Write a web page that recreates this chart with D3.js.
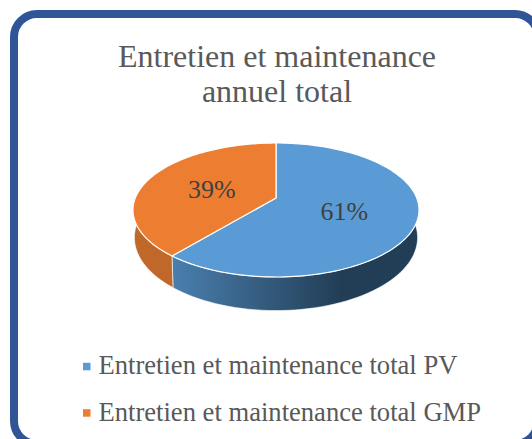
<!DOCTYPE html>
<html lang="en">
<head>
    <meta charset="UTF-8">
    <title>Entretien et maintenance annuel total</title>
    <script src="https://d3js.org/d3.v7.min.js"></script>
    <style>
        html, body { margin: 0; padding: 0; background: #fff; overflow: hidden; }
        svg { display: block; }
        text { font-family: "Liberation Serif", serif; }
    </style>
</head>
<body>
<svg id="canvas" width="532" height="439"></svg>
<script>
    let categories = ['Entretien et maintenance total PV', 'Entretien et maintenance total GMP']
    let values = [61, 39]
    let colors = ['#5b9bd5', '#ed7d31']
    let titleLines = ['Entretien et maintenance', 'annuel total']

    let svg = d3.select('#canvas')

    // frame runs off the right and bottom of the picture
    svg.append('rect')
        .attr('x', 14).attr('y', 14)
        .attr('width', 524).attr('height', 430)
        .attr('rx', 23).attr('ry', 23)
        .attr('fill', '#fff')
        .attr('stroke', '#2f5597')
        .attr('stroke-width', 8)

    svg.selectAll('text.title')
        .data(titleLines)
        .enter()
        .append('text')
        .attr('class', 'title')
        .attr('x', 277)
        .attr('y', (d, i) => 67 + i * 34.5)
        .attr('text-anchor', 'middle')
        .attr('font-size', 32)
        .attr('fill', '#595959')
        .text(d => d)

    // pie lying in perspective, far half is squeezed, lower rim opens up a bit
    let cx = 276, cy = 198, radius = 140.7, tall = 64.85, persp = 0.179
    let depth = 26.5, shrinkX = 0.99, stretchY = 1.09

    function project(angle, r, bottom) {
        let u = r * Math.sin(angle), v = r * Math.cos(angle)
        let w = 1 + persp * v
        let sx = bottom ? shrinkX : 1
        let sy = bottom ? stretchY : 1
        return [cx + sx * radius * u / w, cy - sy * tall * v / w + (bottom ? depth : 0)]
    }

    let pie = d3.pie().sort(null)
    let arcs = pie(values)
    let line = d3.line()

    let defs = svg.append('defs')
    let wallBlue = defs.append('linearGradient')
        .attr('id', 'wallBlue')
        .attr('gradientUnits', 'userSpaceOnUse')
        .attr('x1', 172).attr('x2', 340).attr('y1', 0).attr('y2', 0)
    wallBlue.append('stop').attr('offset', 0).attr('stop-color', '#4a7fae')
    wallBlue.append('stop').attr('offset', 1).attr('stop-color', '#223e56')

    let wallFill = ['url(#wallBlue)', '#c0672a']
    let frontStart = Math.PI * 0.45, frontEnd = Math.PI * 1.55

    // side walls first, top faces go over them
    svg.selectAll('path.wall')
        .data(arcs)
        .enter()
        .append('path')
        .attr('class', 'wall')
        .attr('fill', (d, i) => wallFill[i])
        .attr('stroke', '#fff')
        .attr('stroke-width', 0.6)
        .attr('d', d => {
            let a0 = Math.max(d.startAngle, frontStart), a1 = Math.min(d.endAngle, frontEnd)
            let steps = d3.range(0, 61).map(k => a0 + (a1 - a0) * k / 60)
            let top = steps.map(a => project(a, 1, false))
            let low = steps.slice().reverse().map(a => project(a, 1, true))
            return line(top.concat(low)) + 'Z'
        })

    svg.selectAll('path.face')
        .data(arcs)
        .enter()
        .append('path')
        .attr('class', 'face')
        .attr('fill', (d, i) => colors[i])
        .attr('stroke', '#fff')
        .attr('stroke-width', 1.2)
        .attr('stroke-linejoin', 'round')
        .attr('d', d => {
            let steps = d3.range(0, 121).map(k => d.startAngle + (d.endAngle - d.startAngle) * k / 120)
            return line([project(0, 0, false)].concat(steps.map(a => project(a, 1, false)))) + 'Z'
        })

    svg.selectAll('text.pct')
        .data(arcs)
        .enter()
        .append('text')
        .attr('class', 'pct')
        .attr('text-anchor', 'middle')
        .attr('dominant-baseline', 'central')
        .attr('font-size', 26)
        .attr('fill', '#404040')
        .attr('transform', d => {
            let p = project((d.startAngle + d.endAngle) / 2, 0.5, false)
            return 'translate(' + p[0] + ',' + (p[1] + 2) + ')'
        })
        .text(d => d.value + '%')

    let legend = svg.selectAll('g.legend')
        .data(categories)
        .enter()
        .append('g')
        .attr('class', 'legend')
        .attr('transform', (d, i) => 'translate(83,' + (366.6 + i * 46.4) + ')')
    legend.append('rect')
        .attr('x', 0).attr('y', -3.8)
        .attr('width', 7.5).attr('height', 7.5)
        .attr('fill', (d, i) => colors[i])
    legend.append('text')
        .attr('x', 15.5).attr('y', 7.5)
        .attr('font-size', 26.6)
        .attr('fill', '#595959')
        .text(d => d)
</script>
</body>
</html>
